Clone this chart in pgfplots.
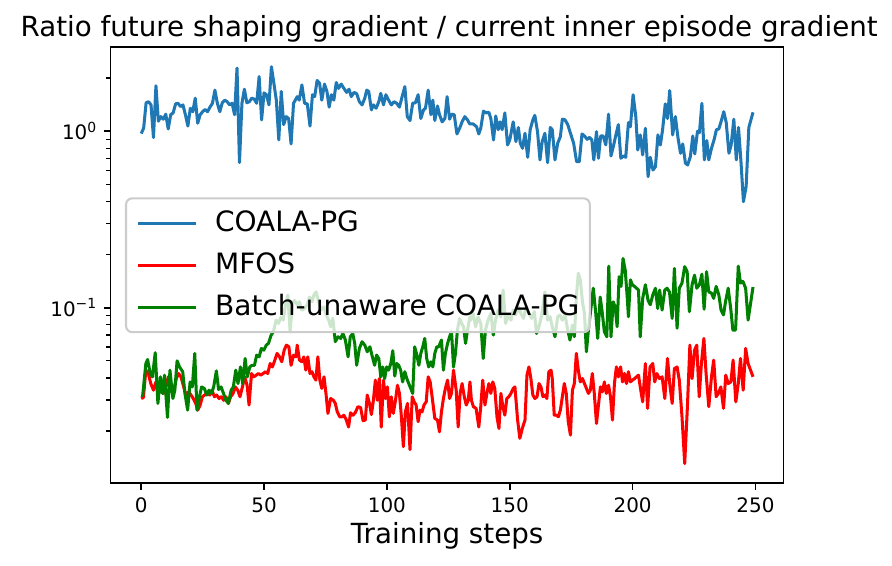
\documentclass[border=0pt]{standalone}
\usepackage{pgfplots}
\pgfplotsset{compat=1.18}
\usepackage{fontspec}
\setmainfont{DejaVu Sans}
\definecolor{mplblue}{HTML}{1F77B4}
\definecolor{mplgreen}{rgb}{0,0.5,0}
\definecolor{mplred}{rgb}{1,0,0}
\definecolor{legedge}{rgb}{0.8,0.8,0.8}
\newcommand{\tickfont}{\fontsize{9.6}{11}\selectfont}
\newcommand{\supfont}{\fontsize{6.7}{8}\selectfont}

\pgfplotstableread{
x y
0 0.97
1 1.04
2 1.45
3 1.47
4 1.41
5 0.92
6 1.81
7 1.14
8 1.21
9 1.17
10 1.25
11 1.03
12 1.24
13 1.27
14 1.43
15 1.44
16 1.38
17 1.41
18 1.24
19 1.07
20 1.35
21 1.29
22 1.54
23 1.11
24 1.24
25 1.29
26 1.33
27 1.29
28 1.37
29 1.44
30 1.71
31 1.44
32 1.29
33 1.45
34 1.50
35 1.47
36 1.41
37 1.44
38 1.24
39 2.28
40 0.664
41 1.44
42 1.73
43 1.45
44 1.47
45 1.54
46 1.52
47 1.44
48 2.04
49 1.16
50 1.65
51 1.61
52 1.41
53 2.32
54 1.87
55 1.50
56 0.893
57 1.68
58 1.09
59 1.21
60 1.18
61 0.847
62 1.44
63.5 1.57
64.3 1.50
65.4 1.83
66.5 1.44
67.6 1.43
68.7 1.07
69.7 1.61
70.6 1.57
71.6 1.94
72.6 1.87
73.5 1.50
74.6 1.85
75.6 1.68
76.5 1.37
77.4 1.61
78.4 1.50
79.4 1.89
80.3 1.75
81.4 1.85
82.5 1.75
83.6 1.66
84.6 1.73
85.5 1.57
86.6 1.66
87.7 1.63
88.8 1.47
89.9 1.41
91.0 1.54
91.8 1.71
92.6 1.68
93.7 1.32
94.5 1.41
95.6 1.35
96.7 1.47
97.5 1.64
98.6 1.41
99.6 1.61
100.7 1.50
101.8 1.41
102.9 1.47
104.0 1.44
105.1 1.37
106.2 1.57
107.3 1.79
108.3 1.21
109.4 1.15
110.5 1.44
111.6 1.45
112.7 1.61
113.8 1.18
114.9 1.32
115.7 1.35
116.8 1.71
117.9 1.24
118.7 1.50
119.5 1.15
120.6 1.39
121.4 1.24
122.5 1.13
123.6 1.18
124.5 1.57
125.5 1.17
126.4 1.25
127.4 1.24
128.5 0.965
129.6 1.04
130.6 1.13
131.7 1.21
132.8 1.16
133.7 1.10
135.1 1.10
136.5 1.06
137.4 0.965
138.2 1.04
139.3 1.30
140.4 1.27
141.5 1.28
142.3 1.18
143.4 0.892
144.3 1.22
145.3 1.02
146.1 1.13
146.9 1.02
148.0 1.27
149.1 0.836
150.0 0.892
151.4 1.13
152.5 0.873
153.5 1.05
154.3 0.855
155.2 0.80
156.2 0.974
157.3 0.712
158.3 1.02
159.4 1.16
160.2 1.23
161.3 0.995
162.3 0.688
163.2 0.873
164.3 0.974
165.4 0.664
166.5 1.05
167.3 1.02
168.4 0.688
169.5 0.855
170.6 0.932
171.4 1.17
172.5 1.16
173.6 1.09
174.7 0.974
176.0 0.855
177.2 0.672
178.3 0.672
179.4 0.965
180.4 0.94
181.5 0.90
182.5 0.924
183.4 0.892
184.2 0.688
185.3 0.995
186.1 0.703
187.0 0.94
188.0 0.94
189.1 0.836
190.2 1.25
191.2 0.724
192.3 0.836
193.1 0.94
194.2 1.09
195.2 0.703
196.3 0.724
197.2 0.712
198.3 1.12
199.1 1.06
200.2 1.61
201.3 1.21
202.1 0.783
203.1 0.953
204.1 0.734
205.2 1.04
206.3 0.553
207.2 0.712
208.3 0.603
209.3 0.63
210.3 0.953
211.3 0.836
212.2 1.02
213.3 1.43
214.2 1.18
215.1 1.70
216.3 0.953
217.4 1.21
218.5 0.912
219.5 0.75
220.4 0.847
221.5 0.659
222.4 0.644
223.5 0.718
224.5 0.94
225.3 0.744
226.4 1.00
227.2 0.982
228.2 1.44
229.2 0.688
230.2 0.885
231.0 0.688
232.1 0.80
233.2 0.90
234.1 1.02
235.1 1.03
236.2 1.16
237.1 1.29
238.1 1.12
239.2 0.75
240.1 0.836
241.2 1.17
242.2 0.688
243.1 1.05
244.1 0.672
245.1 0.399
246.2 0.486
247.3 1.05
249 1.28
}\coalapg

\pgfplotstableread{
x y
0 0.0306
0.9 0.0310
1.9 0.0443
2.9 0.0424
3.9 0.0372
5.0 0.0341
6.0 0.0380
6.9 0.0327
8.0 0.0341
9.1 0.0327
10.1 0.0356
11.0 0.0406
12.1 0.0356
13.2 0.0341
14.3 0.0397
15.2 0.0424
16.2 0.0406
17.3 0.0356
18.4 0.0313
19.3 0.0334
20.3 0.0320
21.2 0.0306
22.2 0.0287
23.0 0.0263
24.0 0.0281
24.9 0.0313
25.8 0.0320
26.8 0.0327
27.9 0.0320
28.8 0.0341
29.8 0.0313
30.7 0.0320
31.7 0.0306
32.6 0.0313
33.6 0.0299
34.5 0.0313
35.5 0.0287
36.4 0.0313
37.4 0.0327
38.3 0.0356
39.3 0.0341
40.2 0.0313
41.2 0.0356
42.1 0.0406
43.1 0.0364
43.9 0.0281
44.9 0.0424
45.8 0.0406
46.8 0.0415
47.7 0.0424
48.7 0.0415
49.6 0.0424
50.6 0.0434
51.5 0.0424
52.5 0.0483
53.4 0.0462
54.4 0.0505
55.3 0.0551
56.3 0.0527
57.2 0.0494
58.2 0.0575
59.1 0.0614
60.1 0.0601
61.0 0.0472
62.0 0.0539
63.0 0.0527
63.5 0.0614
64.4 0.0505
65.4 0.0494
66.2 0.0527
67.0 0.0443
67.8 0.0527
68.7 0.0424
69.5 0.0434
70.3 0.0406
71.1 0.0389
71.9 0.0527
72.7 0.0389
73.5 0.0349
74.4 0.0406
75.2 0.0327
76.0 0.0252
77.1 0.0306
78.2 0.0299
79.0 0.0287
79.8 0.0257
80.8 0.0241
81.7 0.0241
82.5 0.0246
83.5 0.0231
84.4 0.0211
85.2 0.0254
86.2 0.0246
87.1 0.0254
88.2 0.0275
89.3 0.0272
90.3 0.0229
91.2 0.0231
92.0 0.0320
92.9 0.0287
93.7 0.0248
94.5 0.0299
95.3 0.0389
96.1 0.0299
96.9 0.0397
97.7 0.0211
98.6 0.0389
99.4 0.0306
100.2 0.0356
101.0 0.0241
101.8 0.0313
102.6 0.0252
103.5 0.0299
104.3 0.0364
105.1 0.0327
105.9 0.0241
106.7 0.0163
107.5 0.0257
108.4 0.0287
109.4 0.0157
110.3 0.0313
111.1 0.0293
111.9 0.0281
112.7 0.0226
113.5 0.0263
114.3 0.0257
115.1 0.0281
116.0 0.0293
116.8 0.0406
117.6 0.0380
118.4 0.0313
119.5 0.0236
120.6 0.0231
121.4 0.0198
122.2 0.0257
123.0 0.0306
123.8 0.0349
124.7 0.0389
125.5 0.0306
126.3 0.0327
127.1 0.0443
128.2 0.0341
129.0 0.0211
129.8 0.0327
130.6 0.0372
131.5 0.0313
132.3 0.0281
133.1 0.0299
133.8 0.0380
134.4 0.0299
135.2 0.0275
136.3 0.0269
137.4 0.0211
138.2 0.0275
139.0 0.0389
139.9 0.0281
140.7 0.0327
141.5 0.0372
142.3 0.0327
143.1 0.0380
143.9 0.0349
144.8 0.0241
145.6 0.0207
146.4 0.0327
147.2 0.0275
148.0 0.0246
148.8 0.0306
149.6 0.0313
150.5 0.0327
151.4 0.0349
152.1 0.0356
153.2 0.0231
154.1 0.0182
155.1 0.0207
156.2 0.0231
157.0 0.0415
157.8 0.0462
158.6 0.0397
159.4 0.0320
160.2 0.0306
161.1 0.0313
161.9 0.0372
162.7 0.0356
163.5 0.0313
164.3 0.0320
165.1 0.0306
165.9 0.0434
166.8 0.0443
167.3 0.0397
168.1 0.0246
169.0 0.0246
169.8 0.0241
170.6 0.0263
171.4 0.0313
172.2 0.0372
173.0 0.0327
173.8 0.0226
174.7 0.0190
175.5 0.0341
176.3 0.0372
177.1 0.0551
177.9 0.0443
178.7 0.0380
179.6 0.0397
180.4 0.0372
181.2 0.0349
182.0 0.0327
182.8 0.0341
183.6 0.0424
184.4 0.0327
185.3 0.0221
186.1 0.0281
186.9 0.0356
187.7 0.0334
188.5 0.0380
189.3 0.0327
190.2 0.0364
191.0 0.0313
191.8 0.0231
192.6 0.0372
193.4 0.0462
194.2 0.0406
195.1 0.0462
195.9 0.0380
196.7 0.0424
197.5 0.0372
198.3 0.0434
199.1 0.0380
199.9 0.0389
200.8 0.0397
201.6 0.0406
202.4 0.0415
203.1 0.0356
204.1 0.0293
205.2 0.0483
206.1 0.0269
207.1 0.0462
208.2 0.0483
209.0 0.0380
209.9 0.0424
210.9 0.0397
212.0 0.0406
213.1 0.0306
214.2 0.0516
215.1 0.0372
216.1 0.0287
217.0 0.0452
218.1 0.0462
219.0 0.0389
220.1 0.0241
221.2 0.0131
222.3 0.0275
223.3 0.0614
224.2 0.0397
225.2 0.0575
226.1 0.0614
227.1 0.0313
228.0 0.0483
229.0 0.0670
229.9 0.0424
231.0 0.0275
232.1 0.0406
233.0 0.0505
234.0 0.0313
234.9 0.0327
235.9 0.0356
237.0 0.0269
237.9 0.0415
238.9 0.0372
240.0 0.0380
240.9 0.0505
242.0 0.0293
243.0 0.0372
243.9 0.0516
245.0 0.0341
246.0 0.0588
247.0 0.0483
249 0.0406
}\mfos

\pgfplotstableread{
x y
0 0.0320
0.6 0.0318
1.9 0.0483
2.6 0.0509
3.7 0.0424
4.6 0.0406
5.7 0.0556
6.8 0.0287
7.8 0.0406
8.6 0.0327
9.5 0.0415
10.7 0.0239
11.7 0.0443
12.9 0.0306
13.7 0.0341
14.6 0.0500
15.6 0.0462
16.9 0.0434
17.8 0.0327
18.9 0.0263
19.9 0.0380
20.8 0.0356
21.8 0.0551
22.7 0.0263
23.7 0.0313
24.6 0.0356
25.7 0.0349
26.7 0.0320
27.6 0.0341
28.6 0.0327
29.5 0.0356
30.6 0.0439
31.5 0.0344
32.5 0.0356
33.5 0.0327
34.5 0.0299
35.5 0.0287
36.6 0.0341
37.5 0.0356
38.5 0.0443
39.4 0.0372
40.4 0.0462
41.3 0.0372
42.3 0.0516
43.2 0.0406
44.2 0.0462
45.1 0.0472
46.1 0.0472
47.0 0.0539
48.0 0.0527
48.9 0.0588
49.9 0.0575
50.9 0.0614
51.8 0.0628
52.9 0.0701
53.8 0.0731
54.9 0.0851
55.9 0.0815
56.8 0.0882
57.8 0.0851
58.7 0.1035
59.7 0.118
60.6 0.0731
61.6 0.106
62.4 0.110
63.5 0.104
64.4 0.108
65.4 0.097
66.5 0.099
67.6 0.104
68.5 0.115
69.5 0.108
70.3 0.118
71.2 0.123
72.2 0.108
73.3 0.097
74.4 0.101
75.3 0.091
76.3 0.0851
77.1 0.078
78.0 0.087
79.0 0.0642
80.1 0.0685
81.2 0.067
82.1 0.0715
83.1 0.0656
84.2 0.0527
85.1 0.0685
86.1 0.0715
86.9 0.0628
87.7 0.0472
88.8 0.0588
89.9 0.0642
91.0 0.0614
92.0 0.0563
93.1 0.0601
93.9 0.0539
95.0 0.0472
95.8 0.0539
96.7 0.0516
97.5 0.0406
98.3 0.0462
99.1 0.0397
99.9 0.0462
100.7 0.0443
101.6 0.0483
102.4 0.0571
103.2 0.0410
104.0 0.0483
104.8 0.0472
105.6 0.0443
106.4 0.0380
107.3 0.0434
108.1 0.0397
108.9 0.0372
109.7 0.0349
110.5 0.0327
111.3 0.0601
112.2 0.0539
113.0 0.0472
113.8 0.0551
114.6 0.0601
115.4 0.0670
116.2 0.0516
117.0 0.0462
117.9 0.0494
118.7 0.0462
119.5 0.0551
120.3 0.0601
121.1 0.0601
122.2 0.0656
123.0 0.0443
123.8 0.0551
124.7 0.0628
125.5 0.0685
126.3 0.0731
127.1 0.0462
127.9 0.0551
128.7 0.0747
129.6 0.087
130.4 0.0815
131.2 0.078
132.0 0.0628
132.8 0.0747
133.8 0.0889
134.1 0.0851
135.1 0.0929
136.1 0.078
137.1 0.0889
138.2 0.0815
139.2 0.0516
140.1 0.0747
141.2 0.0851
142.3 0.0929
143.3 0.070
144.2 0.0851
145.3 0.097
146.4 0.0889
147.3 0.126
148.3 0.0815
149.4 0.091
150.5 0.0851
151.4 0.097
152.4 0.091
153.5 0.101
154.5 0.0929
155.6 0.087
156.7 0.101
157.8 0.0929
158.9 0.087
160.0 0.095
160.9 0.0715
161.9 0.078
163.0 0.091
164.3 0.123
165.4 0.0851
166.4 0.0889
167.3 0.078
168.4 0.0685
169.5 0.0889
170.4 0.091
171.4 0.0851
172.5 0.091
173.6 0.0747
174.5 0.0656
175.5 0.0797
176.3 0.0685
177.1 0.115
177.9 0.157
178.7 0.144
179.6 0.108
180.4 0.0929
181.2 0.0563
182.0 0.0747
183.1 0.101
184.0 0.129
185.0 0.0929
185.8 0.067
186.8 0.115
187.6 0.095
188.5 0.0731
189.5 0.0685
190.3 0.172
191.2 0.0685
192.1 0.108
192.9 0.101
193.7 0.078
194.5 0.150
195.3 0.132
196.1 0.190
197.0 0.163
197.8 0.115
198.3 0.0889
199.1 0.144
199.9 0.135
200.8 0.132
201.6 0.129
202.4 0.126
203.1 0.0685
204.1 0.113
205.2 0.135
206.3 0.110
207.2 0.104
208.2 0.118
209.3 0.129
210.2 0.099
211.0 0.126
212.0 0.097
213.1 0.126
214.0 0.129
215.0 0.123
216.1 0.087
217.0 0.167
218.1 0.0765
219.0 0.129
220.1 0.138
221.2 0.171
222.2 0.160
223.1 0.095
224.2 0.135
225.2 0.153
226.1 0.129
227.2 0.135
228.2 0.155
229.1 0.098
230.1 0.160
231.0 0.123
232.1 0.121
233.0 0.113
234.0 0.132
235.1 0.118
236.0 0.097
237.0 0.091
237.8 0.108
238.9 0.129
240.0 0.097
240.8 0.0747
241.9 0.0747
243.0 0.172
243.9 0.138
244.9 0.141
246.0 0.129
247.0 0.0851
249 0.131
}\batchunaware

\begin{document}
\begin{tikzpicture}
\begin{axis}[
  at={(0,0)}, anchor=south west,
  scale only axis, width=323.04bp, height=209.0bp,
  ymode=log,
  xmin=-12.45, xmax=261.45, ymin=0.0102, ymax=2.99,
  xtick={0,50,100,150,200,250},
  ytick={0.1,1},
  yticklabels={10\raisebox{3.6bp}{\supfont −1}, 10\raisebox{3.6bp}{\supfont 0}},
  minor ytick={0.02,0.03,0.04,0.05,0.06,0.07,0.08,0.09,0.2,0.3,0.4,0.5,0.6,0.7,0.8,0.9,2},
  tick align=outside, tick pos=left,
  major tick length=3.4bp, minor tick length=2bp,
  major tick style={line width=0.8bp, black},
  minor tick style={line width=0.6bp, black},
  axis line style={line width=0.8bp, black},
  /pgf/number format/assume math mode=true,
  xticklabel style={font=\tickfont, inner sep=0pt, anchor=base, yshift=-11bp},
  yticklabel style={font=\tickfont, inner sep=0pt, anchor=east, xshift=-3.3bp},
  title={Ratio future shaping gradient / current inner episode gradient},
  every axis title shift=0pt,
  title style={font=\fontsize{13.35}{16}\selectfont, at={(0.5,1)}, anchor=base, yshift=5.4bp, xshift=1bp, inner sep=0pt},
  xlabel={Training steps},
  xlabel style={font=\fontsize{13.35}{16}\selectfont, at={(0.5,0)}, anchor=base, yshift=-29.4bp, inner sep=0pt},
  legend cell align=left,
  legend image code/.code={\draw[#1, line width=1.45bp] (0bp,0bp) -- (27.7bp,0bp);},
  legend style={
    at={(0.0214,0.6555)}, anchor=north west,
    draw=legedge, line width=1bp, fill=white, fill opacity=0.8, draw opacity=1, text opacity=1,
    rounded corners=3bp,
    inner xsep=5bp, inner ysep=6.4bp,
    row sep=8.73bp, column sep=8.6bp,
    font=\fontsize{13.5}{16}\selectfont,
    nodes={inner sep=0pt, text height=9.73bp, text depth=1.6bp},
  },
]
\addplot[mplblue, line width=1.45bp, line join=round] table[x=x, y=y] {\coalapg};
\addlegendentry{COALA-PG}
\addplot[mplred, line width=1.45bp, line join=round] table[x=x, y=y] {\mfos};
\addlegendentry{MFOS}
\addplot[mplgreen, line width=1.45bp, line join=round] table[x=x, y=y] {\batchunaware};
\addlegendentry{Batch-unaware COALA-PG}
\end{axis}
\pgfresetboundingbox
\path[use as bounding box] (-53.09bp,-39.98bp) rectangle (375.07bp,231.70bp);
\end{tikzpicture}
\end{document}
